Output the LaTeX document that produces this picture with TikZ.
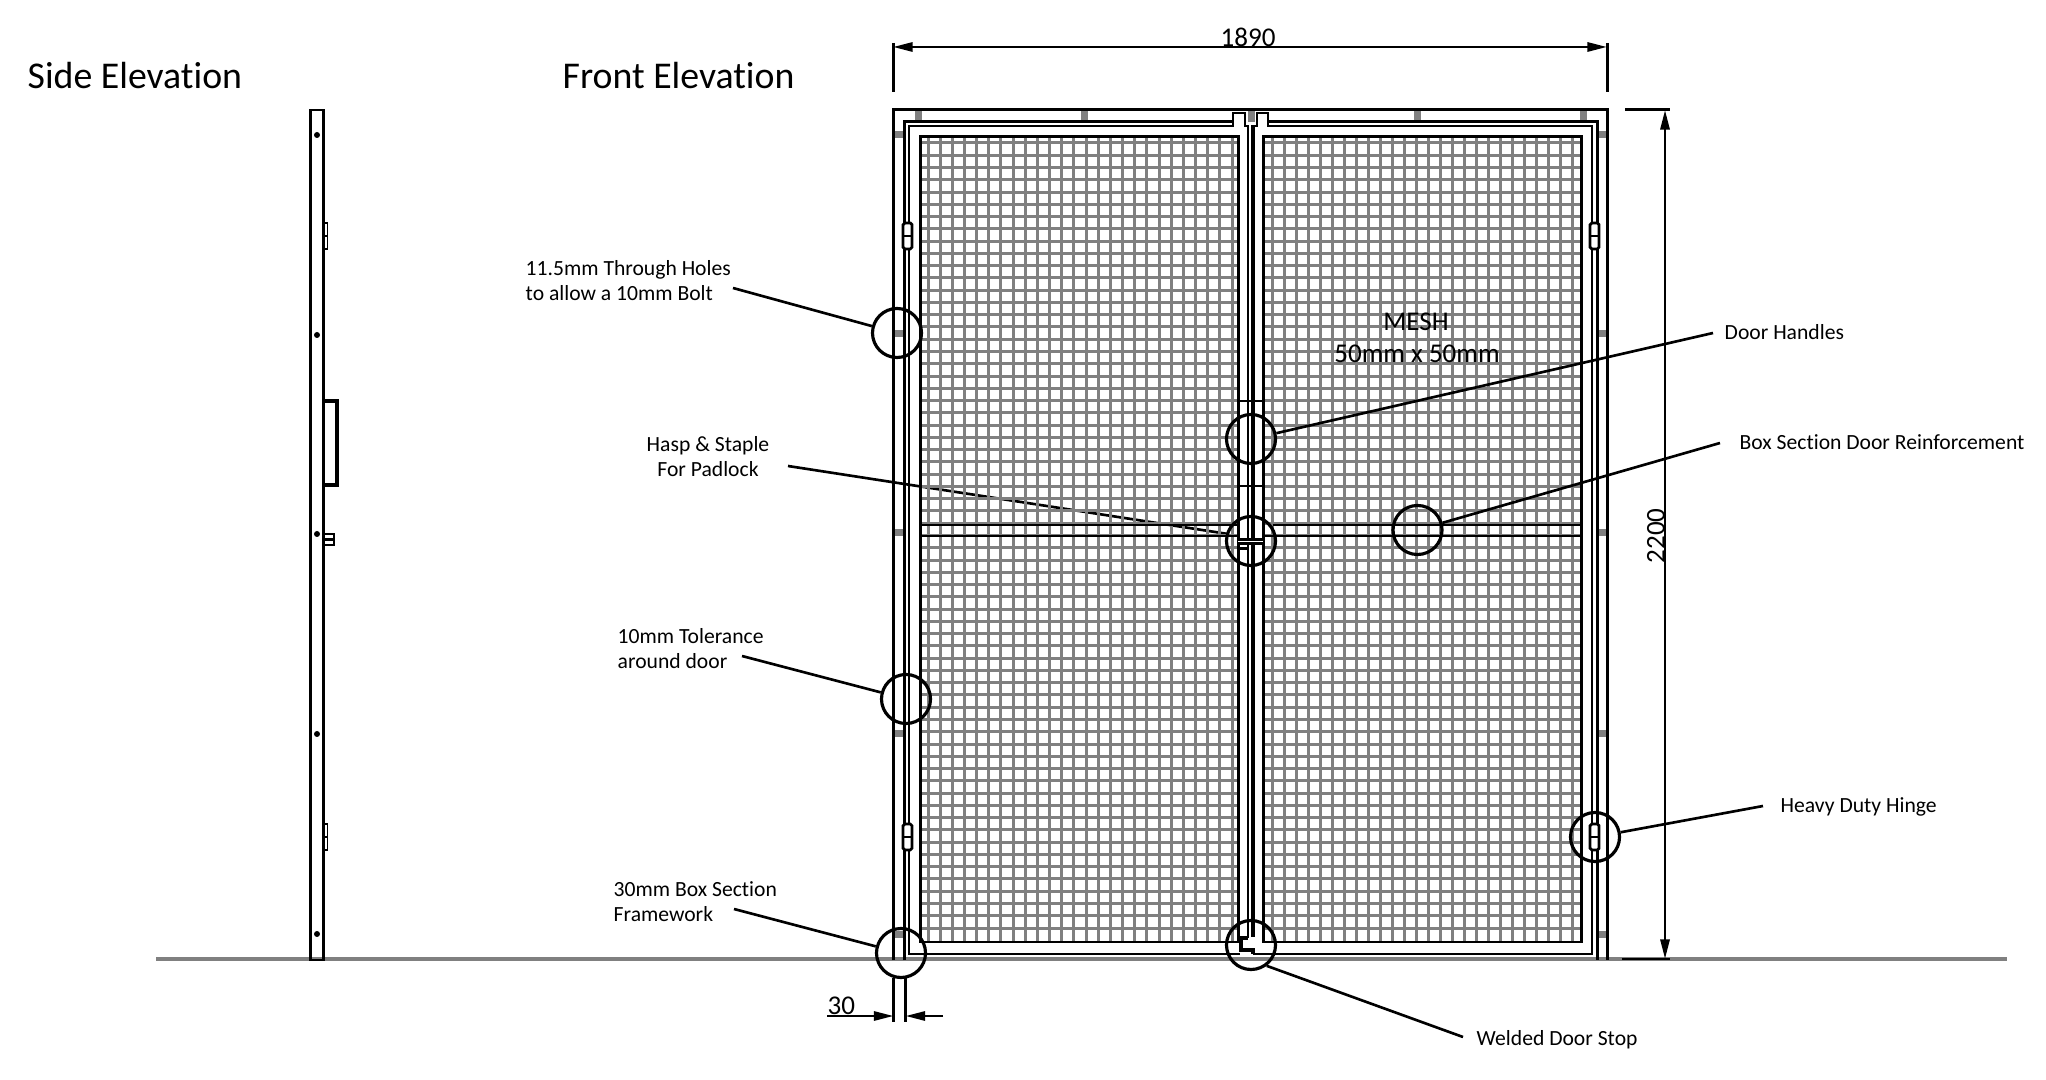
\documentclass[tikz,border=0pt]{standalone}
\usepackage{fontspec}
\setmainfont[Ligatures={NoCommon}]{Carlito}
\usetikzlibrary{arrows.meta}

\begin{document}
\begin{tikzpicture}[x=0.01cm,y=-0.01cm]
		
		\tikzset{frame/.style = {draw=black,line width=0.85pt}}
		\tikzset{leaf/.style = {draw=black,line width=0.8pt}}
		\tikzset{meshline/.style = {draw=meshgray,line width=0.85pt}}
		\tikzset{lug/.style = {fill=meshgray}}
		\tikzset{spot/.style = {shape=circle,draw,line width=0.9pt,minimum size=0.49cm,inner sep=0pt}}
		\tikzset{edge/.style = {line width=0.75pt}}
		\tikzset{dim/.style = {line width=0.75pt,>={Triangle[length=5.6pt,width=2.6pt]}}}
		\tikzset{note/.style = {anchor=west,align=left,inner sep=0pt,font=\fontsize{6.15pt}{7.1pt}\selectfont}}
		\tikzset{title/.style = {anchor=west,inner sep=0pt,font=\fontsize{10.75pt}{12pt}\selectfont}}
		\tikzset{size/.style = {inner sep=0pt,font=\fontsize{7.7pt}{9pt}\selectfont}}
		\colorlet{meshgray}{black!50}
		\useasboundingbox (0,0) rectangle (2046,1080);
		
		% ground
		\coordinate (g1) at (156,959);
		\coordinate (g2) at (2007,959);
		\draw[meshline,line width=1pt] (g1) to (g2);
		
		% hasp leader sits under the mesh
		\coordinate (haspend) at (788,466);
		\coordinate (haspfoot) at (1228,534);
		\draw[edge] (haspend) to (haspfoot);
		
		% mesh
		\foreach \i in {0,...,25}{
			\draw[meshline] (928+\i*12.16,137) to (928+\i*12.16,942);
			\draw[meshline] (1272+\i*12,137) to (1272+\i*12,942);
		}
		\foreach \i in {0,...,64}{
			\draw[meshline] (920,143+\i*12.266) to (1238,143+\i*12.266);
			\draw[meshline] (1263,143+\i*12.266) to (1581,143+\i*12.266);
		}
		\draw[frame] (920,137) rectangle (1238,942);
		\draw[frame] (1263,137) rectangle (1581,942);
		
		% lugs
		\foreach \x in {918,1084,1251,1417,1583}
			\fill[lug] (\x-3.5,110) rectangle (\x+3.5,122);
		\foreach \y in {135,334,533,734,934}{
			\fill[lug] (893,\y-3.5) rectangle (905,\y+3.5);
			\fill[lug] (1597,\y-3.5) rectangle (1607,\y+3.5);
		}
		
		% outer frame
		\draw[frame] (893,960) -- (893,110) -- (1607,110) -- (1607,960);
		
		% door leaves
		\draw[leaf] (904.5,960) -- (904.5,121.5) -- (1233,121.5);
		\draw[leaf] (1268,121.5) -- (1597.5,121.5) -- (1597.5,960);
		\draw[leaf] (1248,938) -- (1248,126) -- (1245,126) -- (1245,113) -- (1233,113) -- (1233,126) -- (909,126) -- (909,954) -- (1240,954);
		\draw[leaf] (1253,126) -- (1257,126) -- (1257,113) -- (1268,113) -- (1268,126) -- (1592,126) -- (1592,954) -- (1253,954);
		\draw[frame,line width=1.1pt] (1253,125) -- (1253,937);
		
		% door stop
		\draw[frame,line width=1.1pt] (1248,938) -- (1241,938) -- (1241,950) -- (1253,950) -- (1253,954);
		
		% reinforcement and handles
		\draw[frame] (920,525) -- (1238,525);
		\draw[frame] (920,536) -- (1238,536);
		\draw[frame] (1273,525) -- (1581,525);
		\draw[frame] (1263,536) -- (1581,536);
		\draw[leaf] (1238,401) -- (1263,401);
		\draw[leaf] (1238,486) -- (1263,486);
		
		% hasp
		\fill (1238,538) rectangle (1263,545.5);
		\fill[white] (1238,541) rectangle (1263,542.5);
		\fill (1238,547) rectangle (1248,550.5);
		
		% hinges
		\foreach \y in {236,837}{
			\draw[leaf,fill=white,rounded corners=0.5pt] (903,\y-13) rectangle (912,\y+13);
			\draw[leaf] (903,\y) -- (912,\y);
			\draw[leaf,fill=white,rounded corners=0.5pt] (1590,\y-13) rectangle (1599,\y+13);
			\draw[leaf] (1590,\y) -- (1599,\y);
		}
		
		% spots
		\node[spot] (hasp) at (1251,541) {};
		\node[spot] (holes) at (897,333) {};
		\node[spot] (handles) at (1251,439) {};
		\node[spot] (boxsec) at (1417.5,530) {};
		\node[spot] (toler) at (906,699) {};
		\node[spot] (hinge) at (1595,837) {};
		\node[spot] (framew) at (901,953) {};
		\node[spot] (stop) at (1251,945) {};
		
		% leaders
		\coordinate (holesend) at (733,288);
		\coordinate (handlesend) at (1713,333);
		\coordinate (boxsecend) at (1720,443);
		\coordinate (tolerend) at (742,656);
		\coordinate (hingeend) at (1763,806);
		\coordinate (framewend) at (734,909);
		\coordinate (stopend) at (1463,1037);
		\draw[edge] (holesend) to (holes);
		\draw[edge] (handlesend) to (handles);
		\draw[edge] (boxsecend) to (boxsec);
		\draw[edge] (tolerend) to (toler);
		\draw[edge] (hingeend) to (hinge);
		\draw[edge] (framewend) to (framew);
		\draw[edge] (stopend) to (stop.-53);
		
		% dimensions
		\coordinate (w1) at (893,47);
		\coordinate (w2) at (1607,47);
		\draw[dim,<->] (w1) to (w2);
		\draw[frame] (893,43) -- (893,92);
		\draw[frame] (1607,43) -- (1607,92);
		
		\coordinate (h1) at (1665,110);
		\coordinate (h2) at (1665,959);
		\draw[dim,<->] (h1) to (h2);
		\draw[frame] (1625,110) -- (1670,110);
		\draw[frame] (1622,959) -- (1670,959);
		
		\coordinate (t1) at (827,1016);
		\coordinate (t2) at (893.5,1016);
		\coordinate (t3) at (943,1016);
		\coordinate (t4) at (905.5,1016);
		\draw[dim,->] (t1) to (t2);
		\draw[dim,->] (t3) to (t4);
		\draw[frame] (893.5,978) -- (893.5,1022);
		\draw[frame] (905,978) -- (905,1022);
		
		% side elevation
		\draw[frame,line width=0.8pt] (310.5,110) rectangle (323.5,960);
		\foreach \y in {135,335,534,734,934}
			\fill (317,\y) circle (3);
		\foreach \y in {236,837}{
			\draw[frame,line width=0.5pt] (323.5,\y-13) rectangle (327.5,\y+13);
			\draw[frame,line width=0.5pt] (323.5,\y) -- (327.5,\y);
		}
		\draw[frame,line width=1.3pt] (323.5,401) -- (337,401) -- (337,485) -- (323.5,485);
		\draw[frame,line width=0.7pt] (323.5,534) rectangle (334,545);
		\draw[frame,line width=0.7pt] (323.5,539.5) -- (334,539.5);
		
		% texts
		\node[title] (sidet) at (27,76) {Side Elevation};
		\node[title] (frontt) at (562,76) {Front Elevation};
		\node[size,anchor=base] (width) at (1248,47) {1890};
		\node[size,rotate=90] (height) at (1656,536) {2200};
		\node[size,anchor=west] (thirty) at (827,1006) {30};
		\node[size] (mesh) at (1416,322) {MESH};
		\node[size] (meshsize) at (1417,354) {50mm x 50mm};
		\node[note] (holest) at (525,281) {11.5mm Through Holes\\to allow a 10mm Bolt};
		\node[note,anchor=center,align=center] (haspt) at (708,457) {Hasp \& Staple\\For Padlock};
		\node[note] (tolert) at (617,649) {10mm Tolerance\\around door};
		\node[note] (framewt) at (613,902) {30mm Box Section\\Framework};
		\node[note] (handlest) at (1724,332) {Door Handles};
		\node[note] (boxsect) at (1739,442) {Box Section Door Reinforcement};
		\node[note] (hinget) at (1780,807) {Heavy Duty Hinge};
		\node[note] (stopt) at (1476,1040) {Welded Door Stop};
		
\end{tikzpicture}
\end{document}
